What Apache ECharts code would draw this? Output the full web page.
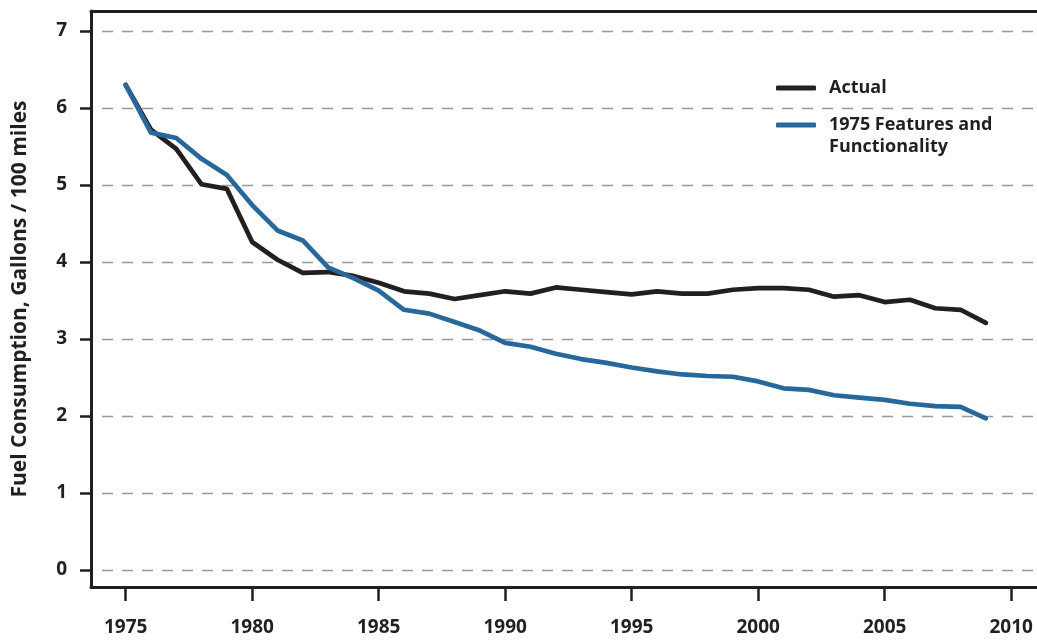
<!DOCTYPE html>
<html>
<head>
<meta charset="utf-8">
<script src="https://cdn.jsdelivr.net/npm/echarts@6/dist/echarts.min.js"></script>
<style>
  html, body { margin: 0; padding: 0; background: #fff; }
  #chart { width: 1037px; height: 641px; }
</style>
</head>
<body>
<div id="chart"></div>
<script>
// values
const years = [1975, 1976, 1977, 1978, 1979, 1980, 1981, 1982, 1983, 1984,
  1985, 1986, 1987, 1988, 1989, 1990, 1991, 1992, 1993, 1994,
  1995, 1996, 1997, 1998, 1999, 2000, 2001, 2002, 2003, 2004,
  2005, 2006, 2007, 2008, 2009];
const actual = [6.30, 5.72, 5.47, 5.01, 4.95, 4.26, 4.03, 3.86, 3.87, 3.82,
  3.73, 3.62, 3.59, 3.52, 3.57, 3.62, 3.59, 3.67, 3.64, 3.61,
  3.58, 3.62, 3.59, 3.59, 3.64, 3.66, 3.66, 3.64, 3.55, 3.57,
  3.48, 3.51, 3.40, 3.38, 3.21];
const features1975 = [6.30, 5.68, 5.61, 5.34, 5.13, 4.74, 4.41, 4.28, 3.93, 3.79,
  3.63, 3.38, 3.33, 3.22, 3.11, 2.95, 2.90, 2.81, 2.74, 2.69,
  2.63, 2.58, 2.54, 2.52, 2.51, 2.45, 2.36, 2.34, 2.27, 2.24,
  2.21, 2.16, 2.13, 2.12, 1.97];
const xTicks = [1975, 1980, 1985, 1990, 1995, 2000, 2005, 2010];
const yTicks = [0, 1, 2, 3, 4, 5, 6, 7];

const ink = '#231f20';
const blue = '#28679a';
const font = '"Open Sans", "Noto Sans", sans-serif';

const chart = echarts.init(document.getElementById('chart'));

const legendText = {
  color: ink,
  fontFamily: font,
  fontWeight: 'bold',
  fontSize: 18,
  lineHeight: 22,
  padding: [0, 0, 0, 8]
};

const option = {
  animation: false,
  grid: { left: 91, right: 0, top: 11, bottom: 54 },
  legend: [
    {
      data: ['Actual'],
      left: 771,
      top: 72,
      icon: 'roundRect',
      itemWidth: 40,
      itemHeight: 5,
      textStyle: legendText
    },
    {
      data: ['1975 Features and Functionality'],
      left: 771,
      top: 87,
      icon: 'roundRect',
      itemWidth: 40,
      itemHeight: 5,
      formatter: () => '\n1975 Features and\nFunctionality',
      textStyle: legendText
    }
  ],
  xAxis: [
    {
      type: 'value',
      min: 1973.63,
      max: 2011.02,
      position: 'bottom',
      axisLine: { show: true, onZero: false, lineStyle: { color: ink, width: 3 } },
      axisTick: { show: true, customValues: xTicks, length: 14, lineStyle: { color: ink, width: 2.5 } },
      axisLabel: {
        customValues: xTicks,
        formatter: v => String(v),
        margin: 31,
        color: ink,
        fontFamily: font,
        fontWeight: 'bold',
        fontSize: 19
      },
      splitLine: { show: false }
    },
    {
      type: 'value',
      min: 1973.63,
      max: 2011.02,
      position: 'top',
      axisLine: { show: true, onZero: false, lineStyle: { color: ink, width: 3 } },
      axisTick: { show: false },
      axisLabel: { show: false },
      splitLine: { show: false }
    }
  ],
  yAxis: {
    type: 'value',
    min: -0.22,
    max: 7.26,
    name: 'Fuel Consumption, Gallons / 100 miles',
    nameLocation: 'middle',
    nameRotate: 90,
    nameGap: 60,
    nameTextStyle: { color: ink, fontFamily: font, fontWeight: 'bold', fontSize: 21 },
    axisLine: { show: true, onZero: false, lineStyle: { color: ink, width: 3 } },
    axisTick: { show: true, customValues: yTicks, length: 11, lineStyle: { color: ink, width: 2.5 } },
    axisLabel: {
      customValues: yTicks,
      margin: 24,
      color: ink,
      fontFamily: font,
      fontWeight: 'bold',
      fontSize: 19
    },
    splitLine: {
      show: true,
      lineStyle: { color: '#999', width: 1.3, type: [11, 9], dashOffset: 9 }
    }
  },
  series: [
    {
      name: 'Actual',
      type: 'line',
      data: years.map((y, i) => [y, actual[i]]),
      showSymbol: false,
      itemStyle: { color: ink },
      lineStyle: { color: ink, width: 4.7, cap: 'round', join: 'round' },
      z: 2
    },
    {
      name: '1975 Features and Functionality',
      type: 'line',
      data: years.map((y, i) => [y, features1975[i]]),
      showSymbol: false,
      itemStyle: { color: blue },
      lineStyle: { color: blue, width: 4.7, cap: 'round', join: 'round' },
      z: 3
    }
  ]
};

chart.setOption(option);
</script>
</body>
</html>
